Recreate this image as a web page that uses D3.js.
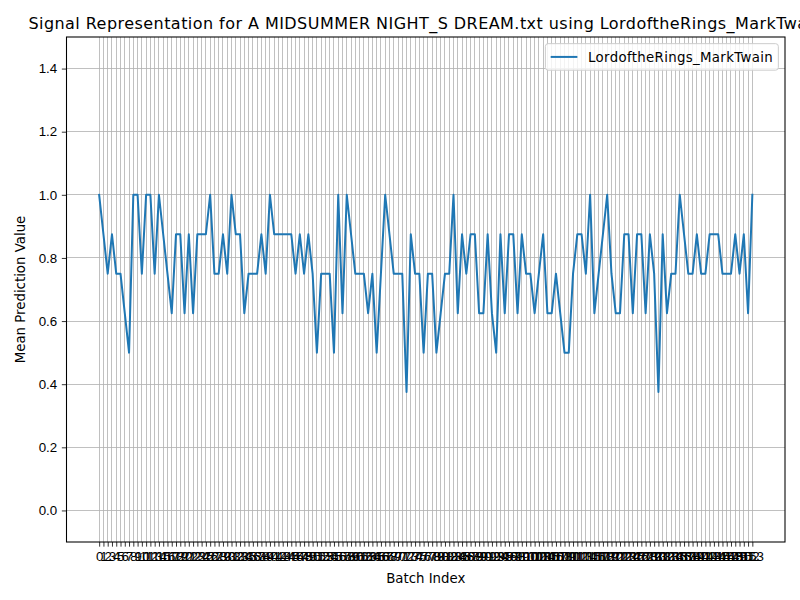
<!DOCTYPE html>
<html lang="en">
  <head>
    <meta charset="utf-8" />
    <title>signal</title>
    <script src="https://d3js.org/d3.v7.min.js"></script>
    <style>
      body {
        padding: 0;
        margin: 0;
        background: #fff;
      }
      svg {
        font-family: "DejaVu Sans", sans-serif;
      }
      .grid line {
        stroke: #b0b0b0;
        stroke-width: 0.8px;
        shape-rendering: crispEdges;
      }
      .axis text {
        font-size: 13.33px;
        fill: #000;
      }
      .axis line, .axis path {
        stroke: #000;
        stroke-width: 0.8px;
      }
    </style>
  </head>
  <body>

    <svg id="chart" width="800" height="600"></svg>

    <script>

      // data
      var titleText = "Signal Representation for A MIDSUMMER NIGHT_S DREAM.txt using LordoftheRings_MarkTwain";
      var seriesName = "LordoftheRings_MarkTwain";
      var meanPred = [
        1.0, 0.875, 0.75, 0.875, 0.75, 0.75, 0.625, 0.5, 1.0, 1.0,
        0.75, 1.0, 1.0, 0.75, 1.0, 0.875, 0.75, 0.625, 0.875, 0.875,
        0.625, 0.875, 0.625, 0.875, 0.875, 0.875, 1.0, 0.75, 0.75, 0.875,
        0.75, 1.0, 0.875, 0.875, 0.625, 0.75, 0.75, 0.75, 0.875, 0.75,
        1.0, 0.875, 0.875, 0.875, 0.875, 0.875, 0.75, 0.875, 0.75, 0.875,
        0.75, 0.5, 0.75, 0.75, 0.75, 0.5, 1.0, 0.625, 1.0, 0.875,
        0.75, 0.75, 0.75, 0.625, 0.75, 0.5, 0.75, 1.0, 0.875, 0.75,
        0.75, 0.75, 0.375, 0.875, 0.75, 0.75, 0.5, 0.75, 0.75, 0.5,
        0.625, 0.75, 0.75, 1.0, 0.625, 0.875, 0.75, 0.875, 0.875, 0.625,
        0.625, 0.875, 0.625, 0.5, 0.875, 0.625, 0.875, 0.875, 0.625, 0.875,
        0.75, 0.75, 0.625, 0.75, 0.875, 0.625, 0.625, 0.75, 0.625, 0.5,
        0.5, 0.75, 0.875, 0.875, 0.75, 1.0, 0.625, 0.75, 0.875, 1.0,
        0.75, 0.625, 0.625, 0.875, 0.875, 0.625, 0.875, 0.875, 0.625, 0.875,
        0.75, 0.375, 0.875, 0.625, 0.75, 0.75, 1.0, 0.875, 0.75, 0.75,
        0.875, 0.75, 0.75, 0.875, 0.875, 0.875, 0.75, 0.75, 0.75, 0.875,
        0.75, 0.875, 0.625, 1.0
      ];
      var batchIndex = d3.range(meanPred.length);
      var yTicks = [0.0, 0.2, 0.4, 0.6, 0.8, 1.0, 1.2, 1.4];
      var yLimits = [-0.1, 1.5];

      var svg = d3.select("#chart");
      var margin = {top: 37, right: 15, bottom: 58, left: 66.5};
      var width = 800 - margin.left - margin.right;
      var height = 600 - margin.top - margin.bottom;
      var tickLen = 4.67;

      // x scale with matplotlib style 5% margins
      var n = batchIndex.length - 1;
      var xScale = d3.scaleLinear()
        .domain([-0.05 * n, n * 1.05])
        .range([0, width]);
      var yScale = d3.scaleLinear()
        .domain(yLimits)
        .range([height, 0]);

      var g = svg.append("g")
        .attr("transform", "translate(" + margin.left + "," + margin.top + ")");

      // grid
      g.append("g")
        .attr("class", "grid")
        .selectAll("line.v")
        .data(batchIndex)
        .enter()
        .append("line")
        .attr("x1", function(d){ return xScale(d); })
        .attr("x2", function(d){ return xScale(d); })
        .attr("y1", 0)
        .attr("y2", height);
      g.append("g")
        .attr("class", "grid")
        .selectAll("line.h")
        .data(yTicks)
        .enter()
        .append("line")
        .attr("x1", 0)
        .attr("x2", width)
        .attr("y1", function(d){ return yScale(d); })
        .attr("y2", function(d){ return yScale(d); });

      // line
      var line = d3.line()
        .x(function(d, i){ return xScale(batchIndex[i]); })
        .y(function(d){ return yScale(d); });
      g.append("path")
        .datum(meanPred)
        .attr("fill", "none")
        .attr("stroke", "#1f77b4")
        .attr("stroke-width", 2)
        .attr("stroke-linejoin", "round")
        .attr("stroke-linecap", "square")
        .attr("d", line);

      // axes
      g.append("g")
        .attr("class", "axis")
        .attr("transform", "translate(0," + height + ")")
        .call(d3.axisBottom(xScale)
          .tickValues(batchIndex)
          .tickFormat(d3.format("d"))
          .tickSize(tickLen)
          .tickPadding(4.67))
        .call(function(a){ a.select(".domain").remove(); });
      g.append("g")
        .attr("class", "axis")
        .call(d3.axisLeft(yScale)
          .tickValues(yTicks)
          .tickFormat(d3.format(".1f"))
          .tickSize(tickLen)
          .tickPadding(4.67))
        .call(function(a){ a.select(".domain").remove(); });

      // frame
      g.append("rect")
        .attr("x", 0)
        .attr("y", 0)
        .attr("width", width)
        .attr("height", height)
        .attr("fill", "none")
        .attr("stroke", "#000")
        .attr("stroke-width", 1.07);

      // labels
      svg.append("text")
        .attr("x", margin.left + width / 2)
        .attr("y", 29)
        .attr("text-anchor", "middle")
        .style("font-size", "16px")
        .style("letter-spacing", "0.45px")
        .text(titleText);
      svg.append("text")
        .attr("x", margin.left + width / 2)
        .attr("y", 583)
        .attr("text-anchor", "middle")
        .style("font-size", "13.33px")
        .text("Batch Index");
      svg.append("text")
        .attr("transform", "translate(25," + (margin.top + height / 2) + ") rotate(-90)")
        .attr("text-anchor", "middle")
        .style("font-size", "13.33px")
        .text("Mean Prediction Value");

      // legend
      var legend = g.append("g");
      var legendBox = legend.append("rect")
        .attr("fill", "#fff")
        .attr("fill-opacity", 0.8)
        .attr("stroke", "#cccccc")
        .attr("stroke-width", 1)
        .attr("rx", 2.7)
        .attr("ry", 2.7);
      var legendText = legend.append("text")
        .style("font-size", "13.33px")
        .style("letter-spacing", "0.33px")
        .text(seriesName);
      var textW = legendText.node().getComputedTextLength();
      var boxW = 5.3 + 26.7 + 10.7 + textW + 5.3;
      var boxH = 26.5;
      var boxX = width - 6.67 - boxW;
      var boxY = 6.67;
      legendBox
        .attr("x", boxX)
        .attr("y", boxY)
        .attr("width", boxW)
        .attr("height", boxH);
      legend.append("line")
        .attr("x1", boxX + 5.3)
        .attr("x2", boxX + 5.3 + 26.7)
        .attr("y1", boxY + boxH / 2)
        .attr("y2", boxY + boxH / 2)
        .attr("stroke", "#1f77b4")
        .attr("stroke-width", 2);
      legendText
        .attr("x", boxX + 5.3 + 26.7 + 10.7)
        .attr("y", boxY + boxH / 2 + 4.8);

    </script>

  </body>
</html>
